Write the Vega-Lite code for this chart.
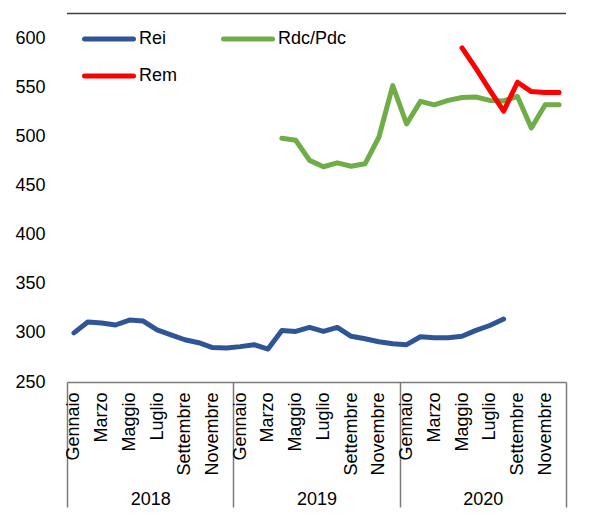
{
  "$schema": "https://vega.github.io/schema/vega-lite/v6.json",
  "width": 499,
  "height": 344,
  "autosize": {"type": "none"},
  "padding": {"left": 67, "top": 38, "right": 29, "bottom": 135},
  "config": {
    "view": {"stroke": null},
    "font": "Liberation Sans",
    "axis": {"labelColor": "#000000", "labelFont": "Liberation Sans", "labelFontSize": 18, "grid": false, "title": null}
  },
  "data": {
    "values": [
      {"m": "2018-01", "yr": "2018", "s": "Rei", "v": 300},
      {"m": "2018-02", "yr": "2018", "s": "Rei", "v": 311},
      {"m": "2018-03", "yr": "2018", "s": "Rei", "v": 310},
      {"m": "2018-04", "yr": "2018", "s": "Rei", "v": 308},
      {"m": "2018-05", "yr": "2018", "s": "Rei", "v": 313},
      {"m": "2018-06", "yr": "2018", "s": "Rei", "v": 312},
      {"m": "2018-07", "yr": "2018", "s": "Rei", "v": 303},
      {"m": "2018-08", "yr": "2018", "s": "Rei", "v": 298},
      {"m": "2018-09", "yr": "2018", "s": "Rei", "v": 293},
      {"m": "2018-10", "yr": "2018", "s": "Rei", "v": 290},
      {"m": "2018-11", "yr": "2018", "s": "Rei", "v": 285},
      {"m": "2018-12", "yr": "2018", "s": "Rei", "v": 284.5},
      {"m": "2019-01", "yr": "2019", "s": "Rei", "v": 286},
      {"m": "2019-02", "yr": "2019", "s": "Rei", "v": 288},
      {"m": "2019-03", "yr": "2019", "s": "Rei", "v": 283.5},
      {"m": "2019-04", "yr": "2019", "s": "Rei", "v": 302.5},
      {"m": "2019-05", "yr": "2019", "s": "Rei", "v": 301.5},
      {"m": "2019-06", "yr": "2019", "s": "Rei", "v": 305.5},
      {"m": "2019-07", "yr": "2019", "s": "Rei", "v": 301.5},
      {"m": "2019-08", "yr": "2019", "s": "Rei", "v": 305.5},
      {"m": "2019-09", "yr": "2019", "s": "Rei", "v": 296.5},
      {"m": "2019-10", "yr": "2019", "s": "Rei", "v": 294},
      {"m": "2019-11", "yr": "2019", "s": "Rei", "v": 291},
      {"m": "2019-12", "yr": "2019", "s": "Rei", "v": 289},
      {"m": "2020-01", "yr": "2020", "s": "Rei", "v": 288},
      {"m": "2020-02", "yr": "2020", "s": "Rei", "v": 296},
      {"m": "2020-03", "yr": "2020", "s": "Rei", "v": 295},
      {"m": "2020-04", "yr": "2020", "s": "Rei", "v": 295},
      {"m": "2020-05", "yr": "2020", "s": "Rei", "v": 296.5},
      {"m": "2020-06", "yr": "2020", "s": "Rei", "v": 302.5},
      {"m": "2020-07", "yr": "2020", "s": "Rei", "v": 307.5},
      {"m": "2020-08", "yr": "2020", "s": "Rei", "v": 314},
      {"m": "2019-04", "yr": "2019", "s": "Rdc/Pdc", "v": 498},
      {"m": "2019-05", "yr": "2019", "s": "Rdc/Pdc", "v": 496},
      {"m": "2019-06", "yr": "2019", "s": "Rdc/Pdc", "v": 475.5},
      {"m": "2019-07", "yr": "2019", "s": "Rdc/Pdc", "v": 469},
      {"m": "2019-08", "yr": "2019", "s": "Rdc/Pdc", "v": 473},
      {"m": "2019-09", "yr": "2019", "s": "Rdc/Pdc", "v": 469.5},
      {"m": "2019-10", "yr": "2019", "s": "Rdc/Pdc", "v": 472},
      {"m": "2019-11", "yr": "2019", "s": "Rdc/Pdc", "v": 499},
      {"m": "2019-12", "yr": "2019", "s": "Rdc/Pdc", "v": 551.5},
      {"m": "2020-01", "yr": "2020", "s": "Rdc/Pdc", "v": 512.5},
      {"m": "2020-02", "yr": "2020", "s": "Rdc/Pdc", "v": 535.5},
      {"m": "2020-03", "yr": "2020", "s": "Rdc/Pdc", "v": 532},
      {"m": "2020-04", "yr": "2020", "s": "Rdc/Pdc", "v": 536.5},
      {"m": "2020-05", "yr": "2020", "s": "Rdc/Pdc", "v": 539.5},
      {"m": "2020-06", "yr": "2020", "s": "Rdc/Pdc", "v": 540},
      {"m": "2020-07", "yr": "2020", "s": "Rdc/Pdc", "v": 536.5},
      {"m": "2020-08", "yr": "2020", "s": "Rdc/Pdc", "v": 536},
      {"m": "2020-09", "yr": "2020", "s": "Rdc/Pdc", "v": 540.5},
      {"m": "2020-10", "yr": "2020", "s": "Rdc/Pdc", "v": 508.5},
      {"m": "2020-11", "yr": "2020", "s": "Rdc/Pdc", "v": 532},
      {"m": "2020-12", "yr": "2020", "s": "Rdc/Pdc", "v": 532},
      {"m": "2020-05", "yr": "2020", "s": "Rem", "v": 590},
      {"m": "2020-06", "yr": "2020", "s": "Rem", "v": 569},
      {"m": "2020-07", "yr": "2020", "s": "Rem", "v": 547},
      {"m": "2020-08", "yr": "2020", "s": "Rem", "v": 525.5},
      {"m": "2020-09", "yr": "2020", "s": "Rem", "v": 555},
      {"m": "2020-10", "yr": "2020", "s": "Rem", "v": 545.5},
      {"m": "2020-11", "yr": "2020", "s": "Rem", "v": 544.5},
      {"m": "2020-12", "yr": "2020", "s": "Rem", "v": 544.5}
    ]
  },
  "layer": [
    {
      "mark": {"type": "point", "opacity": 0},
      "encoding": {
        "x": {
          "field": "yr", "type": "ordinal",
          "scale": {"type": "band", "paddingInner": 0, "paddingOuter": 0},
          "axis": {
            "orient": "bottom", "domain": false, "ticks": true, "tickBand": "extent",
            "tickSize": 125, "tickColor": "#7a7a7a", "tickWidth": 1.5,
            "labelPadding": -17, "labelAngle": 0, "labelBaseline": "top", "labelAlign": "center"
          }
        },
        "y": {"field": "v", "type": "quantitative"}
      }
    },
    {
      "mark": {"type": "line", "strokeWidth": 5, "strokeCap": "round", "strokeJoin": "round"},
      "encoding": {
        "x": {
          "field": "m", "type": "ordinal",
          "scale": {"type": "point", "padding": 0.5},
          "axis": {
            "orient": "bottom", "domain": true, "domainColor": "#7a7a7a", "domainWidth": 1.5,
            "ticks": false, "labelAngle": 270, "labelAlign": "right", "labelBaseline": "middle",
            "labelPadding": 10, "labelBound": false, "labelOverlap": false,
            "labelExpr": "['Gennaio','','Marzo','','Maggio','','Luglio','','Settembre','','Novembre',''][toNumber(slice(datum.value,5))-1]"
          }
        },
        "y": {
          "field": "v", "type": "quantitative",
          "scale": {"domain": [250, 600], "nice": false, "zero": false},
          "axis": {"domain": false, "ticks": false, "values": [250, 300, 350, 400, 450, 500, 550, 600], "labelPadding": 22}
        },
        "color": {
          "field": "s", "type": "nominal",
          "scale": {"domain": ["Rei", "Rem", "Rdc/Pdc"], "range": ["#2F5597", "#FF0000", "#70AD47"]},
          "legend": {
            "title": null, "orient": "none", "legendX": 15, "legendY": -26, "columns": 2,
            "symbolType": "stroke", "symbolSize": 2401, "symbolStrokeWidth": 5,
            "labelFontSize": 18, "labelFont": "Liberation Sans", "labelColor": "#000000", "labelOffset": 3,
            "columnPadding": 35, "rowPadding": -26,
            "encode": {"symbols": {"update": {"strokeCap": {"value": "round"}}}}
          }
        }
      }
    },
    {
      "data": {"values": [{"t": 625}]},
      "mark": {"type": "rule", "color": "#404040", "strokeWidth": 1.5, "clip": false},
      "encoding": {"y": {"field": "t", "type": "quantitative"}}
    }
  ],
  "resolve": {"scale": {"x": "independent"}, "axis": {"x": "independent"}}
}
